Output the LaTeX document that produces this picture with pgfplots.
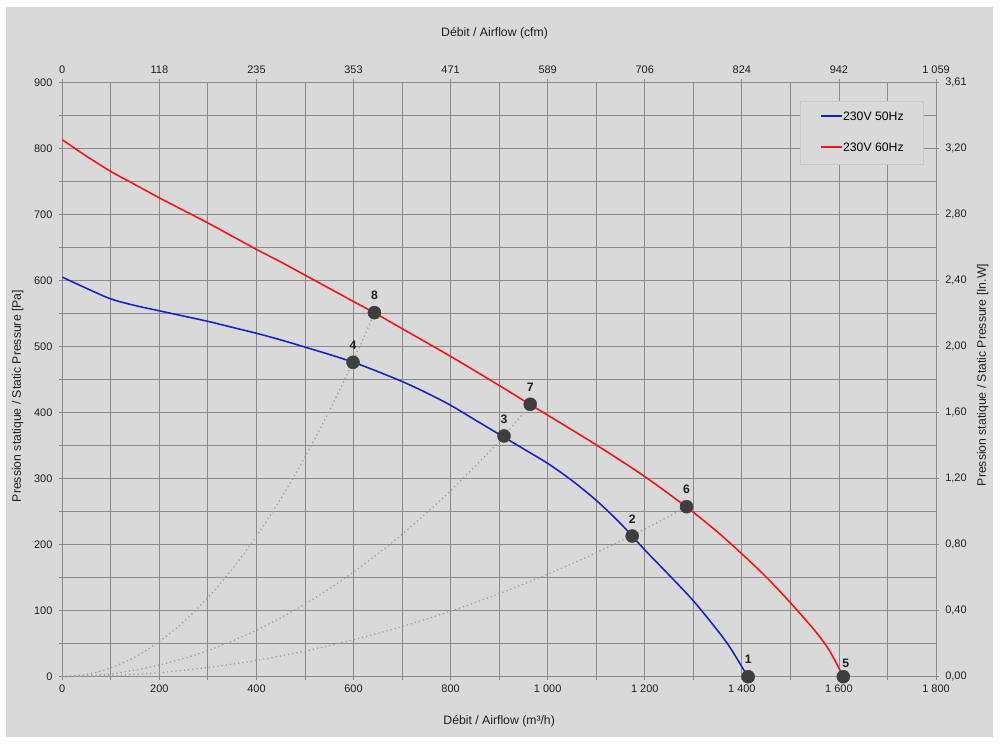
\documentclass[border=0pt]{standalone}
\usepackage{fontspec}
\setmainfont{Liberation Sans}
\usepackage{pgfplots}
\pgfplotsset{compat=1.18}

\definecolor{bg}{RGB}{217,217,217}
\definecolor{gridgray}{RGB}{138,138,138}
\definecolor{legborder}{RGB}{200,200,200}
\definecolor{dotgray}{RGB}{160,160,160}
\definecolor{ptgray}{RGB}{62,62,62}
\definecolor{txt}{RGB}{30,30,30}
\definecolor{cfifty}{RGB}{25,30,205}
\definecolor{csixty}{RGB}{250,15,25}

\newcommand\ticksize{\fontsize{7.8}{9}\selectfont}
\newcommand\labsize{\fontsize{8.7}{10}\selectfont}
\newcommand\legline[1]{\tikz[baseline=-0.11cm]\draw[#1, line width=1.1pt] (0,0) -- (0.525cm,0);}

\begin{document}
\begin{tikzpicture}
% page and grey panel (1 px = 0.025 cm, axis origin at px (62.3, 676.7))
\path[use as bounding box] (-1.5575,-1.685) rectangle (23.4425,16.9175);
\fill[white] (-1.5575,-1.685) rectangle (23.4425,16.9175);
\fill[bg] (-1.4075,-1.5075) rectangle (23.2675,16.7425);

% main axis: m3/h and Pa
\begin{axis}[
  at={(0,0)}, anchor=south west,
  scale only axis, width=21.8425cm, height=14.86cm,
  xmin=0, xmax=1800, ymin=0, ymax=900,
  clip=false,
  axis line style={draw=gridgray, line width=0.6pt},
  grid=major,
  major grid style={draw=gridgray, line width=0.6pt},
  tick pos=left, tick align=outside, major tick length=0.075cm,
  tick style={draw=gridgray, line width=0.6pt},
  xtick={0,100,...,1800},
  xticklabels={0,,200,,400,,600,,800,,1 000,,1 200,,1 400,,1 600,,1 800},
  ytick={0,50,...,900},
  yticklabels={0,,100,,200,,300,,400,,500,,600,,700,,800,,900},
  ticklabel style={font=\ticksize, text=txt},
  xticklabel style={anchor=north, inner sep=0pt, yshift=-0.1325cm},
  yticklabel style={anchor=east, inner sep=0pt, xshift=-0.165cm},
  xlabel={Débit / Airflow (m³/h)},
  xlabel style={at={(axis description cs:0.5,-0.0754)}, anchor=center, font=\labsize, text=txt},
  ylabel={Pression statique / Static Pressure [Pa]},
  ylabel style={at={(axis description cs:-0.0510,0.4722)}, anchor=center, font=\labsize, text=txt},
  legend cell align=left,
  legend style={at={(axis description cs:0.8447,0.969)}, anchor=north west,
    draw=legborder, fill=bg, font=\labsize,
    inner xsep=0.5cm, inner ysep=0.275cm, row sep=0.505cm,
    nodes={inner sep=0pt}},
]

% legend (line drawn inside each entry)
\addlegendimage{empty legend}
\addlegendentry{\legline{cfifty}230V 50Hz}
\addlegendimage{empty legend}
\addlegendentry{\legline{csixty}230V 60Hz}

% system curves (dotted)
\addplot[forget plot, dotgray, line width=1.3pt, line cap=round,
  dash pattern=on 0pt off 3pt, smooth] coordinates {
  (0,0) (50,3.3) (100,13.3) (150,29.9) (200,53.2) (250,83.1) (300,119.7)
  (350,162.9) (400,212.8) (450,269.3) (500,332.5) (550,402.3) (600,478.8)
  (643,551)
};
\addplot[forget plot, dotgray, line width=1.3pt, line cap=round,
  dash pattern=on 0pt off 3pt, smooth] coordinates {
  (0,0) (100,4.4) (200,17.6) (300,39.6) (400,70.4) (500,110) (600,158.4)
  (700,215.6) (800,281.6) (900,356.4) (964,412)
};
\addplot[forget plot, dotgray, line width=1.3pt, line cap=round,
  dash pattern=on 0pt off 3pt, smooth] coordinates {
  (0,0) (100,1.6) (200,6.2) (300,14) (400,24.8) (500,38.8) (600,55.9)
  (700,76) (800,99.3) (900,125.7) (1000,155.2) (1100,187.8) (1200,223.5)
  (1286,257)
};

% fan curves
\addplot[forget plot, cfifty, line width=1.1pt, smooth] coordinates {
  (0,605) (50,588) (100,572) (150,562) (200,554) (250,546) (300,538)
  (350,529) (400,520) (450,510) (500,499) (550,488) (600,476) (650,462)
  (700,447) (750,430) (800,411) (850,389) (900,367) (950,345) (1000,323)
  (1050,297) (1100,267) (1150,232) (1200,192) (1250,154) (1300,115)
  (1350,70) (1375,45) (1400,15) (1412,0)
};
\addplot[forget plot, csixty, line width=1.1pt, smooth] coordinates {
  (0,813) (50,788) (100,765) (150,745) (200,725) (250,706) (300,687)
  (350,667) (400,647) (450,628) (500,608) (550,588) (600,568) (643,551)
  (700,527) (800,485) (900,441) (964,412) (1000,396) (1100,351)
  (1200,303) (1286,257) (1300,249) (1350,219) (1400,186) (1450,151)
  (1500,112) (1550,70) (1580,40) (1609,0)
};

% operating points
\addplot[forget plot, only marks, mark=*, mark size=4.6pt,
  mark options={draw=ptgray, fill=ptgray},
  nodes near coords, point meta=explicit symbolic,
  every node near coord/.append style={anchor=center, yshift=0.425cm,
    font=\labsize\bfseries, text=txt}]
  table[meta=lab] {
x y lab
1413 0 1
1174 213 2
910 364.5 3
599 476 4
1286 257.4 6
964 412.5 7
643 551.2 8
};
\addplot[forget plot, only marks, mark=*, mark size=4.6pt,
  mark options={draw=ptgray, fill=ptgray},
  nodes near coords, point meta=explicit symbolic,
  every node near coord/.append style={anchor=center, xshift=0.06cm,
    yshift=0.33cm, font=\labsize\bfseries, text=txt}]
  table[meta=lab] {
x y lab
1609 0 5
};
\end{axis}

% secondary scales: cfm on top, in.W on the right
\begin{axis}[
  at={(0,0)}, anchor=south west,
  scale only axis, width=21.8425cm, height=14.86cm,
  xmin=0, xmax=1800, ymin=0, ymax=900,
  axis line style={draw=none},
  tick pos=right, xticklabel pos=right, yticklabel pos=right,
  tick align=outside, major tick length=0.075cm,
  tick style={draw=gridgray, line width=0.6pt},
  xtick={0,200,...,1800},
  xticklabels={0,118,235,353,471,589,706,824,942,1 059},
  ytick={0,100,...,900},
  yticklabels={{0,00},{0,40},{0,80},{1,20},{1,60},{2,00},{2,40},{2,80},{3,20},{3,61}},
  ticklabel style={font=\ticksize, text=txt},
  xticklabel style={anchor=base, inner sep=0pt, yshift=0.15cm},
  yticklabel style={anchor=west, inner sep=0pt, xshift=0.15cm},
  xlabel={Débit / Airflow (cfm)},
  xlabel style={at={(axis description cs:0.4947,1.0826)}, anchor=center,
    font=\labsize, text=txt},
  ylabel={Pression statique / Static Pressure [In.W]},
  ylabel style={at={(axis description cs:1.0535,0.5076)}, anchor=center,
    font=\labsize, text=txt},
]
\end{axis}
\end{tikzpicture}
\end{document}
